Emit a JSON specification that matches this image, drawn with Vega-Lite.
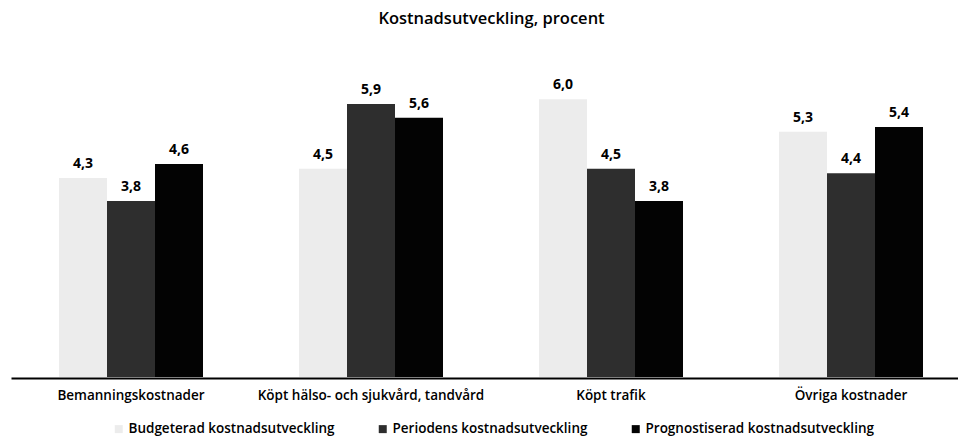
{
  "$schema": "https://vega.github.io/schema/vega-lite/v6.json",
  "autosize": "none",
  "padding": {"left": 11, "top": 53, "right": 0, "bottom": 60},
  "width": 947,
  "height": 324,
  "title": {
    "text": "Kostnadsutveckling, procent",
    "font": "Open Sans",
    "fontSize": 16.5,
    "fontWeight": 600,
    "color": "#000000",
    "offset": 26,
    "dx": 7
  },
  "data": {
    "values": [
      {"kategori": "Bemanningskostnader", "serie": "Budgeterad kostnadsutveckling", "procent": 4.3},
      {"kategori": "Bemanningskostnader", "serie": "Periodens kostnadsutveckling", "procent": 3.8},
      {"kategori": "Bemanningskostnader", "serie": "Prognostiserad kostnadsutveckling", "procent": 4.6},
      {"kategori": "Köpt hälso- och sjukvård, tandvård", "serie": "Budgeterad kostnadsutveckling", "procent": 4.5},
      {"kategori": "Köpt hälso- och sjukvård, tandvård", "serie": "Periodens kostnadsutveckling", "procent": 5.9},
      {"kategori": "Köpt hälso- och sjukvård, tandvård", "serie": "Prognostiserad kostnadsutveckling", "procent": 5.6},
      {"kategori": "Köpt trafik", "serie": "Budgeterad kostnadsutveckling", "procent": 6.0},
      {"kategori": "Köpt trafik", "serie": "Periodens kostnadsutveckling", "procent": 4.5},
      {"kategori": "Köpt trafik", "serie": "Prognostiserad kostnadsutveckling", "procent": 3.8},
      {"kategori": "Övriga kostnader", "serie": "Budgeterad kostnadsutveckling", "procent": 5.3},
      {"kategori": "Övriga kostnader", "serie": "Periodens kostnadsutveckling", "procent": 4.4},
      {"kategori": "Övriga kostnader", "serie": "Prognostiserad kostnadsutveckling", "procent": 5.4}
    ]
  },
  "encoding": {
    "x": {
      "field": "kategori",
      "type": "nominal",
      "sort": null,
      "scale": {"range": [0, 960], "paddingInner": 0.4, "paddingOuter": 0.2},
      "axis": {
        "title": null,
        "labelAngle": 0,
        "ticks": false,
        "domainColor": "#000000",
        "domainWidth": 2,
        "offset": 1,
        "labelPadding": 10,
        "labelFont": "Open Sans",
        "labelFontSize": 13.5,
        "labelFontWeight": 600,
        "labelLimit": 400,
        "labelColor": "#000000"
      }
    },
    "xOffset": {
      "field": "serie",
      "type": "nominal",
      "sort": ["Budgeterad kostnadsutveckling", "Periodens kostnadsutveckling", "Prognostiserad kostnadsutveckling"],
      "scale": {"paddingInner": 0, "paddingOuter": 0}
    },
    "y": {
      "field": "procent",
      "type": "quantitative",
      "scale": {"domain": [0, 7]},
      "axis": null
    }
  },
  "layer": [
    {
      "mark": {"type": "bar"},
      "encoding": {
        "color": {
          "field": "serie",
          "type": "nominal",
          "sort": ["Budgeterad kostnadsutveckling", "Periodens kostnadsutveckling", "Prognostiserad kostnadsutveckling"],
          "scale": {
            "domain": ["Budgeterad kostnadsutveckling", "Periodens kostnadsutveckling", "Prognostiserad kostnadsutveckling"],
            "range": ["#ececec", "#2e2e2e", "#030303"]
          },
          "legend": {
            "title": null,
            "orient": "none",
            "direction": "horizontal",
            "legendX": 101,
            "legendY": 369,
            "symbolType": "square",
            "symbolSize": 64,
            "symbolStrokeWidth": 0,
            "labelOffset": 3,
            "columnPadding": 41,
            "labelFont": "Open Sans",
            "labelFontSize": 13.5,
            "labelFontWeight": 600,
            "labelColor": "#000000",
            "labelLimit": 400
          }
        }
      }
    },
    {
      "mark": {
        "type": "text",
        "baseline": "alphabetic",
        "dy": -10,
        "font": "Open Sans",
        "fontSize": 14,
        "fontWeight": "bold",
        "color": "#000000"
      },
      "encoding": {
        "text": {"field": "procent", "type": "quantitative", "format": ".1f"}
      }
    }
  ],
  "config": {
    "view": {"stroke": null},
    "locale": {
      "number": {"decimal": ",", "thousands": " ", "grouping": [3], "currency": ["", " kr"]}
    }
  }
}
